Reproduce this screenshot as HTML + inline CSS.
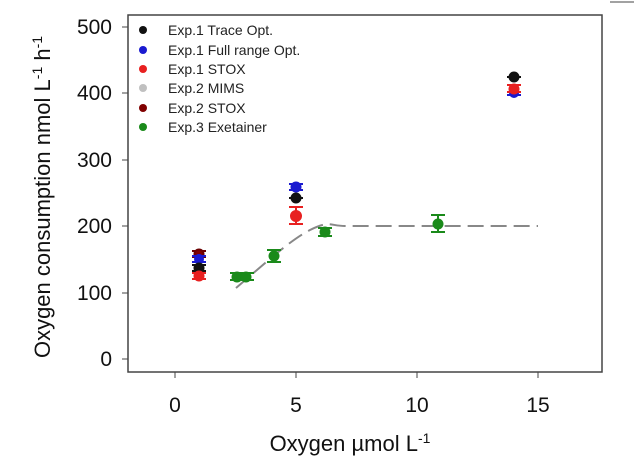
<!DOCTYPE html>
<html><head><style>body{margin:0;background:#fff}svg{display:block}</style></head><body>
<svg width="634" height="473" xmlns="http://www.w3.org/2000/svg" font-family="Liberation Sans, sans-serif">
<rect width="634" height="473" fill="#fff"/>
<line x1="610" y1="2" x2="634" y2="2" stroke="#444" stroke-width="1"/>
<rect x="128" y="15" width="474" height="357" fill="none" stroke="#444" stroke-width="1.5"/>
<g stroke="#444" stroke-width="1">
<line x1="122" y1="359" x2="128" y2="359"/><line x1="122" y1="293" x2="128" y2="293"/><line x1="122" y1="226" x2="128" y2="226"/><line x1="122" y1="160" x2="128" y2="160"/><line x1="122" y1="93" x2="128" y2="93"/><line x1="122" y1="27" x2="128" y2="27"/>
<line x1="175" y1="372" x2="175" y2="378"/><line x1="296" y1="372" x2="296" y2="378"/><line x1="417" y1="372" x2="417" y2="378"/><line x1="538" y1="372" x2="538" y2="378"/>
</g>
<g font-size="21" fill="#111" text-anchor="end">
<text x="112" y="366">0</text><text x="112" y="300">100</text><text x="112" y="233">200</text><text x="112" y="167">300</text><text x="112" y="100">400</text><text x="112" y="34">500</text>
</g>
<g font-size="21" fill="#111" text-anchor="middle">
<text x="175" y="412">0</text><text x="296" y="412">5</text><text x="417" y="412">10</text><text x="538" y="412">15</text>
</g>
<text x="350" y="451" font-size="22" text-anchor="middle" fill="#111">Oxygen  µmol L<tspan dy="-8" font-size="14">-1</tspan></text>
<text transform="translate(50,197) rotate(-90)" font-size="22" text-anchor="middle" fill="#111">Oxygen consumption  nmol L<tspan dy="-8" font-size="14">-1</tspan><tspan dy="8"> h</tspan><tspan dy="-8" font-size="14">-1</tspan></text>
<path d="M236 288 C 262 266, 290 240, 310 230 S 330 226, 345 226 L 538 226" fill="none" stroke="#888" stroke-width="2" stroke-dasharray="16,7"/>
<g stroke-width="2">
<g stroke="#6b0000" fill="#800000"><path d="M192 251h14M192 257h14M199 251v6" fill="none"/><circle cx="199" cy="254" r="4.5"/></g>
<g stroke="#1a1ad0" fill="#1a1ad0"><path d="M192 256h14M192 262h14" fill="none"/><circle cx="199" cy="259" r="4"/></g>
<g stroke="#111" fill="#111"><path d="M192 265h14M192 271h14" fill="none"/><circle cx="199" cy="268" r="4.5"/></g>
<g stroke="#e82020" fill="#e82020"><path d="M192 273h14M192 279h14" fill="none"/><circle cx="199" cy="276" r="4.5"/></g>
<g stroke="#1a8a1a" fill="#1a8a1a"><path d="M230 273h24M230 280h24" fill="none"/><circle cx="237" cy="277" r="4.5"/><circle cx="246" cy="277" r="4.5"/>
<path d="M267 250h14M267 262h14M274 250v12" fill="none"/><circle cx="274" cy="256" r="4.5"/>
<path d="M318 228h14M318 236h14" fill="none"/><circle cx="325" cy="232" r="4.5"/>
<path d="M431 215h14M431 232h14M438 215v17" fill="none"/><circle cx="438" cy="224" r="4.5"/></g>
<g stroke="#1a1ad0" fill="#1a1ad0"><path d="M289 184h14M289 190h14" fill="none"/><circle cx="296" cy="187" r="4.5"/></g>
<g stroke="#111" fill="#111"><path d="M289 198h14" fill="none"/><circle cx="296" cy="198" r="4.5"/></g>
<g stroke="#e82020" fill="#e82020"><path d="M289 207h14M289 224h14M296 207v17" fill="none"/><circle cx="296" cy="216" r="5"/></g>
<g stroke="#111" fill="#111"><path d="M507 77h14" fill="none"/><circle cx="514" cy="77" r="4.5"/></g>
<g stroke="#1a1ad0" fill="#1a1ad0"><path d="M507 95h14" fill="none"/><circle cx="514" cy="93" r="4"/></g>
<g stroke="#e82020" fill="#e82020"><path d="M507 85h14M507 92h14" fill="none"/><circle cx="514" cy="89" r="4.5"/></g>
</g>
<g font-size="14" fill="#222">
<circle cx="143" cy="30" r="4" fill="#111"/><text x="168" y="35">Exp.1 Trace Opt.</text>
<circle cx="143" cy="50" r="4" fill="#1a1ad0"/><text x="168" y="55">Exp.1 Full range Opt.</text>
<circle cx="143" cy="69" r="4" fill="#e82020"/><text x="168" y="74">Exp.1 STOX</text>
<circle cx="143" cy="88" r="4" fill="#c0c0c0"/><text x="168" y="93">Exp.2 MIMS</text>
<circle cx="143" cy="108" r="4" fill="#800000"/><text x="168" y="113">Exp.2 STOX</text>
<circle cx="143" cy="127" r="4" fill="#1a8a1a"/><text x="168" y="132">Exp.3 Exetainer</text>
</g>
</svg>
</body></html>
